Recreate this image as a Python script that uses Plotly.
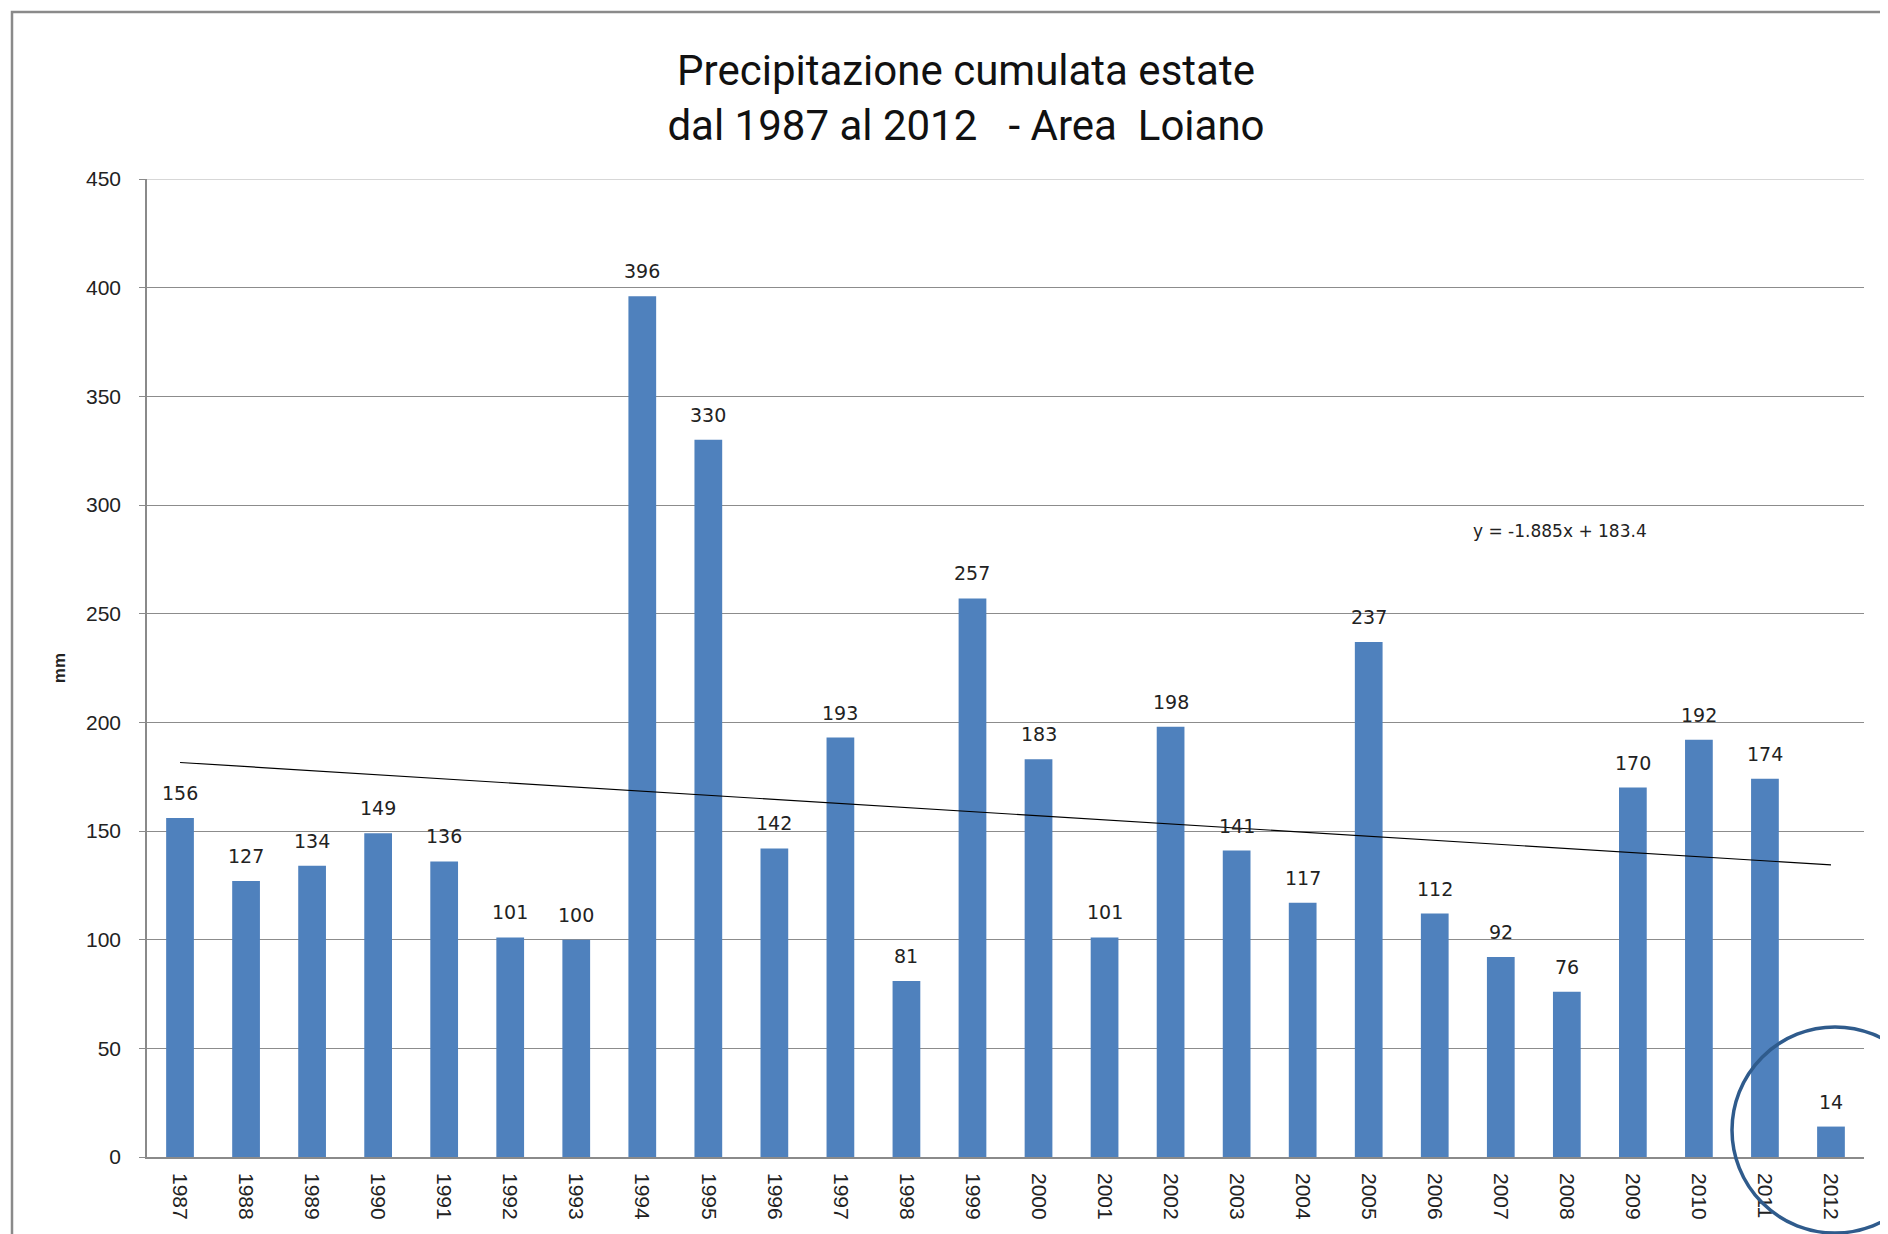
import plotly.graph_objects as go

years = list(range(1987, 2013))
values = [156, 127, 134, 149, 136, 101, 100, 396, 330, 142, 193, 81, 257,
          183, 101, 198, 141, 117, 237, 112, 92, 76, 170, 192, 174, 14]
trend_slope = -1.885
trend_intercept = 183.4
y_ticks = [0, 50, 100, 150, 200, 250, 300, 350, 400, 450]

OFF = 8  # page body margin
W, H = 1888 - OFF, 1234 - OFF
L, R, T, B = 147 - OFF, 24, 179 - OFF, 77
PW, PH = W - L - R, H - T - B


def px(xp):
    return (xp - OFF - L) / PW


def py(yp):
    return (H - B - (yp - OFF)) / PH


trend_y = [trend_slope * (i + 1) + trend_intercept for i in range(len(years))]

fig = go.Figure()
fig.add_trace(go.Bar(
    x=years, y=values, marker=dict(color="#4F81BD", line=dict(width=0)),
    width=0.42, showlegend=False))
fig.add_trace(go.Scatter(
    x=years, y=trend_y, mode="lines", line=dict(color="#000", width=1.2),
    showlegend=False, hoverinfo="skip"))

for yr, v in zip(years, values):
    fig.add_annotation(x=yr, y=v, xref="x", yref="y", text=str(v),
                       showarrow=False, yanchor="bottom", yshift=12,
                       font=dict(family="DejaVu Sans, Liberation Sans", size=19, color="#222"))

fig.add_annotation(x=2006.55, y=288, xref="x", yref="y", xanchor="left",
                   text="y = -1.885x + 183.4", showarrow=False,
                   font=dict(family="DejaVu Sans, Liberation Sans", size=17, color="#222"))

# top gridline
fig.add_shape(type="line", xref="paper", yref="y", x0=0, x1=1,
              y0=y_ticks[-1], y1=y_ticks[-1], line=dict(color="#b0b0b0", width=1))
# outer frame
fig.add_shape(type="rect", xref="paper", yref="paper",
              x0=px(12), x1=px(1910), y0=py(1260), y1=py(12),
              line=dict(color="#8a8a8a", width=2.5), layer="below")
# highlight circle
fig.add_shape(type="circle", xref="paper", yref="paper",
              x0=px(1732), x1=px(1938), y0=py(1233), y1=py(1027),
              line=dict(color="#2f5b8c", width=3.5))

fig.update_layout(
    width=W, height=H,
    margin=dict(l=L, r=R, t=T, b=B),
    paper_bgcolor="white", plot_bgcolor="white",
    title=dict(text="Precipitazione cumulata estate<br>dal 1987 al 2012   - Area  Loiano",
               x=(966 - OFF) / W, xanchor="center", xref="container",
               y=1 - 77 / H, yanchor="top", yref="container",
               font=dict(family="Liberation Sans Narrow, Roboto, sans-serif", size=42, color="#111")),
    xaxis=dict(range=[1986.5, 2012.5], tickmode="array", tickvals=years,
               ticktext=[str(y) for y in years], tickangle=90,
               tickfont=dict(family="Liberation Sans, Arial", size=21, color="#222"),
               showgrid=False, showline=True, linecolor="#8a8a8a", linewidth=1.5,
               ticks="outside", ticklen=0, ticklabelstandoff=10, zeroline=False),
    yaxis=dict(range=[0, 450], tickmode="array", tickvals=y_ticks,
               tickfont=dict(family="Liberation Sans, Arial", size=21, color="#222"),
               showgrid=True, gridcolor="#8c8c8c", gridwidth=1,
               showline=True, linecolor="#8a8a8a", linewidth=1.5,
               ticks="outside", ticklen=6, tickcolor="#8a8a8a", zeroline=False,
               ticklabelstandoff=14,
               title=dict(text="<b>mm</b>", standoff=16,
                          font=dict(family="Liberation Sans, Arial", size=17, color="#222"))),
)

fig.write_html("out.html")
